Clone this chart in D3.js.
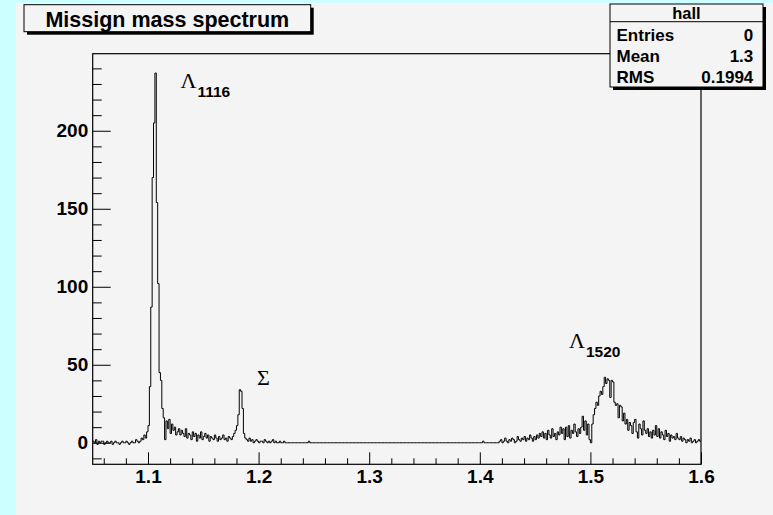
<!DOCTYPE html>
<html>
<head>
<meta charset="utf-8">
<script src="https://cdn.jsdelivr.net/npm/d3@7"></script>
<style>
  body { margin: 0; background: #ccffff; }
  svg { display: block; font-family: "Liberation Sans", Arial, Helvetica, sans-serif; }
</style>
</head>
<body>
<div id="app"></div>
<script>
// histogram binning (bins start at 1.05, 440 bins up to 1.6)
const binStart = 1.05;
const binWidth = 0.00125;

// counts, region by region
const lowSideCounts = [
  1, 0, 2, -1, 1, 0, 1, 1, -1, 0, 1, 0, 0, 1, -1, 0, 1, 0, 0, -1,
  0, 1, 0, 0, 1, 0, -1, 0, 1, 0, 0, 2, 1, 0, 1, 3, 2, 5
];
const lambdaPeakCounts = [
  3, 7, 11, 36, 87, 170, 205, 237, 154, 102, 45, 40, 22, 16, 2, 14, 9, 15, 6, 12,
  8, 10, 5
];
const sigmaSideCounts = [
  7, 9, 5, 8, 6, 4, 9, 3, 6, 5, 2, 7, 4, 6, 1, 5, 3, 7, 2, 4,
  6, 3, 5, 1, 4, 3, 2, 5, 3, 1, 4, 2, 3, 5, 2, 3, 1, 4, 3, 2,
  4, 6, 8, 11
];
const sigmaPeakCounts = [
  18, 34, 33, 22, 6, 3, 2, 1, 3, 1, 2, 0, 1, 2, 1, 0, 1, 1, 0, 2,
  1, 0, 1, 0, 1, 2, 0, 1, 0, 0, 1, 0, 0, 1, 0, 0
];
const gapCounts = [
  0, 0, 0, 0, 0, 0, 0, 0, 0, 0,
  0, 0, 0, 0, 0, 1, 0, 0, 0, 0,
  0, 0, 0, 0, 0, 0, 0, 0, 0, 0,
  0, 0, 0, 0, 0, 0, 0, 0, 0, 0,
  0, 0, 0, 0, 0, 0, 0, 0, 0, 0,
  0, 0, 0, 0, 0, 0, 0, 0, 0, 0,
  0, 0, 0, 0, 0, 0, 0, 0, 0, 0,
  0, 0, 0, 0, 0, 0, 0, 0, 0, 0,
  0, 0, 0, 0, 0, 0, 0, 0, 0, 0,
  0, 0, 0, 0, 0, 0, 0, 0, 0, 0,
  0, 0, 0, 0, 0, 0, 0, 0, 0, 0,
  0, 0, 0, 0, 0, 0, 0, 0, 0, 0,
  0, 0, 0, 0, 0, 0, 0, 0, 0, 0,
  0, 0, 0, 0, 0, 0, 0, 0, 0, 0,
  0, 1, 0, 0, 0, 0, 0, 0, 0, 0
];
const lambda1520Counts = [
  0, 0, 0,
  1, 2, 0, 1, 3, 1, 0, 2, 1, 3, 2, 0, 1, 4, 2, 1, 3, 2, 4, 1, 3, 2, 5, 3, 1, 4, 2, 5, 3, 6,
  4, 7, 3, 6, 2, 8, 5, 3, 9, 4, 6, 2, 7, 5, 10,
  6, 9, 2, 10, 4, 11, 3, 8, 6, 12, 7, 4, 9, 6,
  10, 17, 8, 14, 5, 12, 2, 0,
  12, 18, 22, 26, 24, 30,
  33, 31, 36, 42, 38,
  41, 40, 29,
  40, 39, 26, 24,
  25, 16, 24, 23, 14,
  19, 12, 15, 8, 13,
  11, 6, 13, 15, 7, 3, 12, 9, 5, 14, 8,
  6, 9, 4, 7, 3, 8, 5, 11, 4, 9,
  3, 7, 5, 2, 8, 4, 6, 1, 5, 3, 4, 2, 6, 3, 2, 4,
  1, 3, 2, 0, 2, 1, 3, 0, 1, 2, 0, 1, 2, 1
];

const xMajorTicks = [1.1, 1.2, 1.3, 1.4, 1.5, 1.6];
const yMajorTicks = [0, 50, 100, 150, 200];

const statsRows = [
  ["Entries", "0"],
  ["Mean", "1.3"],
  ["RMS", "0.1994"]
];

const counts = [].concat(
  lowSideCounts, lambdaPeakCounts, sigmaSideCounts,
  sigmaPeakCounts, gapCounts, lambda1520Counts
);
const bins = counts.map((c, i) => ({ x: binStart + i * binWidth, c }));
bins.push({ x: binStart + counts.length * binWidth, c: counts[counts.length - 1] });

const w = 773;
const h = 515;
const frame = { left: 92.7, right: 701, top: 53.7, bottom: 464.3 };

const svg = d3.select("#app").append("svg").attr("width", w).attr("height", h);

// canvas and pad
svg.append("rect").attr("width", w).attr("height", h).attr("fill", "#ccffff");
svg.append("rect")
  .attr("x", 16).attr("y", 3)
  .attr("width", w - 16).attr("height", h - 3)
  .attr("fill", "#f4f4f4");

const x = d3.scaleLinear().domain([1.05, 1.6]).range([frame.left, frame.right]);
const y = d3.scaleLinear().domain([-13.8, 249.4]).range([frame.bottom, frame.top]);

const xMinorTicks = d3.range(1.06, 1.595, 0.02).filter(
  (v) => !xMajorTicks.some((m) => Math.abs(m - v) < 1e-6)
);
const yMinorTicks = d3.range(-10, 250, 10).filter((v) => v % 50 !== 0);

//frame
svg.append("rect")
  .attr("x", frame.left).attr("y", frame.top)
  .attr("width", frame.right - frame.left)
  .attr("height", frame.bottom - frame.top)
  .attr("fill", "none")
  .attr("stroke", "#000")
  .attr("stroke-width", 1.2);

const styleAxis = (g) => {
  g.select(".domain").remove();
  g.selectAll("line").attr("stroke", "#000");
  g.selectAll("text")
    .attr("fill", "#000")
    .style("font-size", "19px")
    .style("font-weight", "bold");
};

// y axis
svg.append("g")
  .attr("transform", `translate(${frame.left},0)`)
  .call(d3.axisLeft(y).tickValues(yMinorTicks).tickSize(-9).tickFormat(""))
  .call(styleAxis);
svg.append("g")
  .attr("transform", `translate(${frame.left},0)`)
  .call(d3.axisLeft(y).tickValues(yMajorTicks).tickSize(-18).tickPadding(4.5).tickFormat(d3.format("d")))
  .call(styleAxis);

// x axis
svg.append("g")
  .attr("transform", `translate(0,${frame.bottom})`)
  .call(d3.axisBottom(x).tickValues(xMinorTicks).tickSize(-6).tickFormat(""))
  .call(styleAxis);
svg.append("g")
  .attr("transform", `translate(0,${frame.bottom})`)
  .call(d3.axisBottom(x).tickValues(xMajorTicks).tickSize(-12).tickPadding(5).tickFormat(d3.format(".1f")))
  .call(styleAxis);

// histogram outline
const line = d3.line()
  .x((d) => x(d.x))
  .y((d) => y(d.c))
  .curve(d3.curveStepAfter);

svg.append("path")
  .datum(bins)
  .attr("d", line)
  .attr("fill", "none")
  .attr("stroke", "#000")
  .attr("stroke-width", 1);

// peak labels
const peakLabels = [
  { sym: "\u039B", sub: "1116", x: 180.5, y: 88 },
  { sym: "\u03A3", sub: "", x: 257, y: 385 },
  { sym: "\u039B", sub: "1520", x: 569, y: 348 }
];
peakLabels.forEach((p) => {
  const t = svg.append("text").attr("x", p.x).attr("y", p.y).attr("fill", "#000");
  t.append("tspan")
    .style("font-family", "'Liberation Serif', 'Times New Roman', serif")
    .style("font-size", "22px")
    .text(p.sym);
  if (p.sub) {
    t.append("tspan")
      .attr("dy", 8.5)
      .attr("dx", 1)
      .style("font-size", "15.5px")
      .style("font-weight", "bold")
      .text(p.sub);
  }
});

//title box
const title = { x: 24, y: 4.7, w: 286.7, h: 27 };
svg.append("rect")
  .attr("x", title.x + 3).attr("y", title.y + 3)
  .attr("width", title.w).attr("height", title.h)
  .attr("fill", "#000");
svg.append("rect")
  .attr("x", title.x).attr("y", title.y)
  .attr("width", title.w).attr("height", title.h)
  .attr("fill", "#f4f4f4").attr("stroke", "#000");
svg.append("text")
  .attr("x", title.x + title.w / 2).attr("y", 26.5)
  .attr("text-anchor", "middle")
  .style("font-size", "21.5px")
  .style("font-weight", "bold")
  .text("Missign mass spectrum");

//stats box
const stats = { x: 610, y: 4, w: 153, h: 83 };
svg.append("rect")
  .attr("x", stats.x + 3).attr("y", stats.y + 3)
  .attr("width", stats.w).attr("height", stats.h)
  .attr("fill", "#000");
svg.append("rect")
  .attr("x", stats.x).attr("y", stats.y)
  .attr("width", stats.w).attr("height", stats.h)
  .attr("fill", "#f4f4f4").attr("stroke", "#000");
svg.append("line")
  .attr("x1", stats.x).attr("x2", stats.x + stats.w)
  .attr("y1", 21.7).attr("y2", 21.7)
  .attr("stroke", "#000");
svg.append("text")
  .attr("x", stats.x + stats.w / 2).attr("y", 19)
  .attr("text-anchor", "middle")
  .style("font-size", "16.5px")
  .style("font-weight", "bold")
  .text("hall");
statsRows.forEach((r, i) => {
  const by = 40.7 + i * 21;
  svg.append("text")
    .attr("x", 616.5).attr("y", by)
    .style("font-size", "17px").style("font-weight", "bold")
    .text(r[0]);
  svg.append("text")
    .attr("x", 753.3).attr("y", by)
    .attr("text-anchor", "end")
    .style("font-size", "17px").style("font-weight", "bold")
    .text(r[1]);
});
</script>
</body>
</html>
